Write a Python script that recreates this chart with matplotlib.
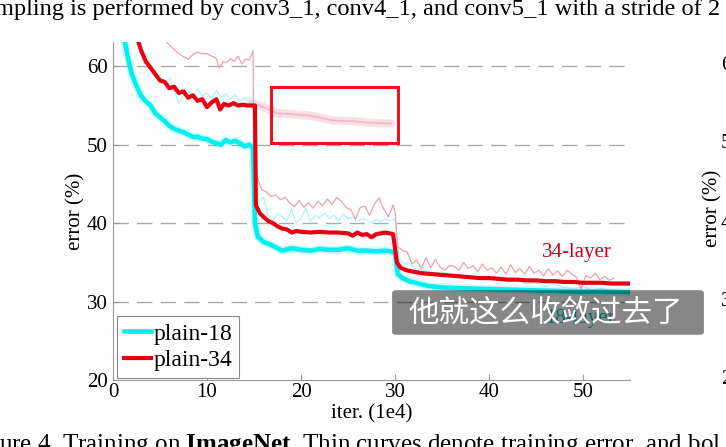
import matplotlib
matplotlib.use('Agg')
import matplotlib.pyplot as plt
from matplotlib.patches import FancyBboxPatch, Rectangle

plt.rcParams['font.family'] = ['Liberation Serif', 'DejaVu Serif']
plt.rcParams['mathtext.fontset'] = 'custom'
plt.rcParams['mathtext.rm'] = 'Liberation Serif'
plt.rcParams['mathtext.bf'] = 'Liberation Serif:bold'

# ---- data (iter in 1e4, error in %) ----
x18_val = [1.2, 1.6, 2.0, 2.5, 3.0, 3.5, 4.0, 4.5, 5.0, 5.5, 6.0, 6.5, 7.0, 7.5, 8.0,
           8.5, 9.0, 9.5, 10.0, 10.5, 11.0, 11.5, 12.0, 12.5, 13.0, 13.5, 14.0, 14.5,
           14.9, 15.1, 15.4, 16.0, 16.5, 17.0, 17.5, 18, 19, 20, 21, 22, 23, 24, 25,
           26, 27, 28, 29, 30.0, 30.3, 30.8, 31.5, 32.5, 33.5, 35, 37, 40, 43, 46, 49,
           52, 55]
y18_val = [63.5, 61.0, 59.0, 57.5, 56.2, 55.5, 55.0, 54.0, 53.5, 53.0, 52.4, 52.0,
           51.8, 51.6, 51.3, 51.0, 51.0, 50.8, 50.7, 50.4, 50.2, 50.0, 50.6, 50.3,
           50.5, 50.2, 49.8, 50.0, 49.6, 40.0, 38.3, 37.6, 37.4, 37.1, 36.8, 36.5,
           36.8, 36.6, 36.5, 36.7, 36.6, 36.6, 36.8, 36.5, 36.5, 36.4, 36.5, 36.3,
           33.5, 33.0, 32.6, 32.3, 32.0, 31.8, 31.7, 31.6, 31.5, 31.4, 31.3, 31.3,
           31.2]

x34_val = [2.6, 3.0, 3.5, 4.0, 4.5, 5.0, 5.5, 6.0, 6.5, 7.0, 7.5, 8.0, 8.5, 9.0, 9.5,
           10.0, 10.5, 11.0, 11.4, 11.8, 12.3, 12.8, 13.3, 13.8, 14.3, 14.8, 15.1,
           15.2, 15.6, 16, 16.5, 17, 17.5, 18, 18.5, 19, 19.5, 20, 21, 22, 23, 24, 25,
           25.5, 26, 26.5, 27, 27.5, 28, 29, 29.8, 30.2, 30.6, 31.2, 32, 33, 34, 35,
           36, 37, 38, 39, 40, 41, 42, 43, 44, 45, 46, 47, 48, 49, 50, 51, 52, 53, 54,
           55]
y34_val = [63.5, 62.0, 60.6, 59.8, 59.0, 58.2, 58.0, 57.2, 57.4, 56.6, 56.8, 56.0,
           56.3, 55.6, 55.8, 54.8, 55.4, 55.8, 54.5, 55.2, 55.0, 55.3, 55.0, 55.1,
           55.0, 55.0, 55.0, 42.3, 41.3, 40.8, 40.3, 40.0, 39.6, 39.3, 39.2, 38.8,
           39.0, 38.9, 38.8, 38.9, 38.8, 38.8, 38.7, 38.4, 38.8, 38.5, 38.6, 38.2,
           38.6, 38.8, 38.6, 35.0, 34.3, 34.0, 33.8, 33.6, 33.5, 33.4, 33.3, 33.2,
           33.1, 33.0, 33.0, 32.9, 32.8, 32.8, 32.7, 32.7, 32.6, 32.6, 32.5, 32.5,
           32.4, 32.4, 32.4, 32.3, 32.3, 32.3]

x34_train = [5.6, 6.2, 6.8, 7.4, 8.0, 8.5, 9.0, 9.5, 10.0, 10.5, 11.0, 11.3, 11.7,
             12.1, 12.5, 12.9, 13.3, 13.7, 14.1, 14.5, 14.9, 15.0, 15.3, 15.8, 16.3,
             16.8, 17.3, 17.8, 18.3, 18.8, 19.3, 19.8, 20.3, 20.8, 21.3, 21.8, 22.3,
             22.8, 23.3, 23.8, 24.3, 24.8, 25.3, 25.8, 26.3, 26.8, 27.3, 27.8, 28.3,
             28.8, 29.3, 29.8, 30.0, 30.3, 30.8, 31.3, 31.8, 32.3, 32.8, 33.3, 33.8,
             34.3, 34.8, 35.3, 35.8, 36.3, 36.8, 37.3, 37.8, 38.3, 38.8, 39.3, 39.8,
             40.3, 40.8, 41.3, 41.8, 42.3, 42.8, 43.3, 43.8, 44.3, 44.8, 45.3, 45.8,
             46.3, 46.8, 47.3, 47.8, 48.3, 48.8, 49.3, 49.8, 50.3, 50.8, 51.3, 51.8,
             52.3, 52.8, 53.3]
y34_train = [63.2, 62.5, 61.8, 61.3, 60.9, 61.5, 61.8, 61.6, 61.6, 61.3, 61.0, 59.8,
             60.6, 60.5, 61.0, 60.6, 61.3, 60.3, 60.9, 60.8, 62.0, 46.5, 46.0, 44.3,
             44.0, 43.4, 43.6, 43.0, 43.3, 42.6, 42.1, 42.9, 42.0, 42.6, 41.9, 42.8,
             42.2, 43.1, 42.4, 43.3, 42.8, 42.0, 41.7, 40.5, 42.0, 42.2, 41.0, 42.4,
             43.2, 41.8, 40.8, 42.3, 41.5, 37.0, 36.5, 36.3, 34.8, 35.3, 34.2, 35.6,
             34.3, 35.4, 34.4, 34.0, 34.6, 34.5, 34.0, 35.0, 34.2, 34.6, 33.8, 34.8,
             34.0, 34.3, 33.6, 34.4, 33.5, 34.7, 33.7, 34.2, 33.5, 34.5, 33.6, 34.0,
             33.3, 34.2, 33.4, 33.9, 33.2, 34.0, 33.5, 33.1, 31.6, 33.3, 33.0, 33.6,
             32.8, 33.2, 32.7, 33.0]

x18_train = [6.0, 6.5, 7.0, 7.5, 8.0, 8.5, 9.0, 9.5, 10.0, 10.5, 11.0, 11.5, 12.0,
             12.5, 13.0, 13.5, 14.0, 14.5, 14.9, 15.1, 15.5, 16.0, 16.5, 17.0, 17.5,
             18.0, 18.5, 19.0, 19.5, 20.0, 20.5, 21.0, 21.5, 22.0, 22.5, 23.0, 23.5,
             24.0, 24.5, 25.0, 25.5, 26.0, 26.5, 27.0, 27.5, 28.0, 28.5, 29.0, 29.5,
             30.0, 30.4, 31.0, 31.5, 32.0, 33.0, 34.0, 35.0, 36.0, 37, 38, 39, 40, 41,
             42, 43, 44, 45, 46, 47, 48, 49, 50, 51, 52, 53, 54]
y18_train = [58.5, 57.0, 55.3, 56.3, 56.8, 56.0, 57.0, 56.2, 56.6, 55.8, 56.9, 56.0,
             56.5, 55.8, 56.4, 55.5, 56.0, 55.6, 55.5, 43.0, 42.8, 43.3, 41.0, 40.4,
             41.2, 40.8, 40.3, 41.8, 40.0, 40.6, 41.9, 40.2, 41.0, 40.7, 41.3, 40.6,
             41.0, 40.3, 41.2, 40.5, 40.8, 40.2, 40.6, 40.4, 40.0, 40.5, 40.2, 40.6,
             40.3, 40.5, 35.5, 34.8, 35.0, 34.3, 34.0, 33.6, 33.8, 33.3, 33.5, 33.0,
             33.2, 32.8, 32.9, 32.5, 32.7, 32.3, 32.4, 32.0, 32.2, 31.8, 31.6, 31.9,
             31.5, 31.7, 31.4, 31.5]

# faint ghost curve inside the highlight box
x_ghost = [14.6, 16.0, 17.5, 19.0, 21.0, 23.4, 25.5, 27.3, 29.6]
y_ghost = [55.4, 54.8, 54.0, 53.9, 53.7, 53.1, 53.0, 52.8, 52.7]

top_caption = 'mpling is performed by conv3_1, conv4_1, and conv5_1 with a stride of 2'
bottom_caption = r'ure 4. Training on $\mathbf{ImageNet}$. Thin curves denote training error, and bol'
subtitle = '他就这么收敛过去了'

W, H = 726, 447
fig = plt.figure(figsize=(W / 100, H / 100), dpi=100)
ax = fig.add_axes([113 / W, 1 - 380 / H, 517 / W, 338 / H])

def fx(px):
    return px / W

def fy(py):
    return 1 - py / H

cyan = '#00f0f0'
red = '#e60012'

ax.plot(x_ghost, y_ghost, color='#f4a6b8', lw=6, alpha=0.35, solid_capstyle='round')
ax.plot(x_ghost, y_ghost, color='#eeb0c0', lw=1.2, alpha=0.8)
ax.plot(x18_train, y18_train, color='#a8f6f6', lw=0.9)
ax.plot(x34_train, y34_train, color='#e8a3ae', lw=0.9)
ax.plot(x18_val, y18_val, color=cyan, lw=6, alpha=0.18)
ax.plot(x18_val, y18_val, color=cyan, lw=3.3, label='plain-18')
ax.plot(x34_val, y34_val, color=red, lw=3.0, label='plain-34')

for yv in [30, 40, 50, 60]:
    ax.axhline(yv, color='#aaaaaa', lw=1.0, dashes=(11, 6), zorder=0)

ax.text(49.3, 36.2, '34-layer', color='#d0001c', fontsize=15, ha='center', va='center')
ax.text(49.7, 27.8, '18-layer', color='#10c8c8', fontsize=15, ha='center', va='center')

ax.set_xlim(0, 55)
ax.set_ylim(20, 63.1)
ax.set_xticks([0, 10, 20, 30, 40, 50])
ax.set_yticks([20, 30, 40, 50, 60])
for s in ['top', 'right']:
    ax.spines[s].set_visible(False)
for s in ['left', 'bottom']:
    ax.spines[s].set_color('#9a9a9a')
ax.tick_params(direction='in', colors='#9a9a9a', labelcolor='black', labelsize=15,
               length=4, pad=2)
ax.tick_params(axis='y', pad=4)

ax.set_xlabel('iter. (1e4)', fontsize=15, va='top')
ax.xaxis.set_label_coords(0.5, -0.071)
ax.set_ylabel('error (%)', fontsize=15)
ax.yaxis.set_label_coords(-0.054, 0.5)

leg = ax.legend(loc='lower left', bbox_to_anchor=(4 / 517, 2 / 338),
                fontsize=17, fancybox=False, edgecolor='#888888', framealpha=1,
                handlelength=1.15, handletextpad=0.1, labelspacing=0.2,
                borderpad=0.3, borderaxespad=0)
leg.get_frame().set_linewidth(0.8)

# highlight rectangle
fig.patches.append(Rectangle((fx(271), fy(143)), fx(127), 56 / H, transform=fig.transFigure,
                             fill=False, edgecolor='#e8141e', lw=2.2, zorder=5))

# captions of the page around the chart
fig.text(fx(-5), fy(15), top_caption, fontsize=17.6, va='baseline', ha='left')
fig.text(fx(-1), fy(451), bottom_caption, fontsize=18, va='baseline', ha='left')

# cropped neighbouring chart on the right
fig.text(fx(713), fy(208), 'error (%)', fontsize=15, rotation=90, ha='center', va='center')
for py, lab in zip([66, 144, 223, 301, 380], ['60', '50', '40', '30', '20']):
    fig.text(fx(721), fy(py), lab, fontsize=15, ha='left', va='center')

# video subtitle
fig.patches.append(FancyBboxPatch((fx(395), fy(333)), fx(306), 41 / H,
                                  boxstyle='round,pad=0.004,rounding_size=0.006',
                                  transform=fig.transFigure, facecolor='black',
                                  edgecolor='none', alpha=0.47, zorder=6))
fig.text(fx(546), fy(313), subtitle, fontsize=22, color='white', ha='center', va='center',
         family=['Noto Sans CJK SC', 'DejaVu Sans'], zorder=7)

fig.savefig('out.png', dpi=100)
